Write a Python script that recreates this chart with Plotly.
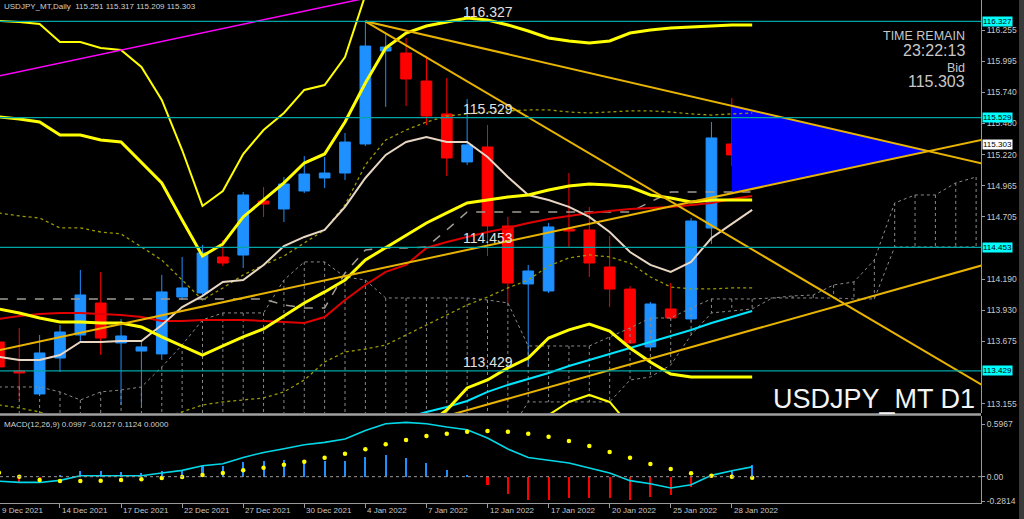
import plotly.graph_objects as go

# ---------------- data ----------------
TRADING_DAYS = ["9 Dec", "10 Dec", "13 Dec", "14 Dec", "15 Dec", "16 Dec", "17 Dec", "20 Dec",
                "21 Dec", "22 Dec", "23 Dec", "24 Dec", "27 Dec", "28 Dec", "29 Dec", "30 Dec",
                "31 Dec", "3 Jan", "4 Jan", "5 Jan", "6 Jan", "7 Jan", "10 Jan", "11 Jan",
                "12 Jan", "13 Jan", "14 Jan", "17 Jan", "18 Jan", "19 Jan", "20 Jan", "21 Jan",
                "24 Jan", "25 Jan", "26 Jan", "27 Jan", "28 Jan", "31 Jan"]

TICK_DAYS = ["9 Dec", "14 Dec", "17 Dec", "22 Dec", "27 Dec", "30 Dec", "4 Jan", "7 Jan",
             "12 Jan", "17 Jan", "20 Jan", "25 Jan", "28 Jan"]
TICK_LABELS = ["9 Dec 2021", "14 Dec 2021", "17 Dec 2021", "22 Dec 2021", "27 Dec 2021",
               "30 Dec 2021", "4 Jan 2022", "7 Jan 2022", "12 Jan 2022", "17 Jan 2022",
               "20 Jan 2022", "25 Jan 2022", "28 Jan 2022"]

OPEN = [113.668, 113.428, 113.237, 113.535, 113.726, 113.991, 113.660, 113.593, 113.569, 114.041,
        114.074, 114.373, 114.389, 114.837, 114.771, 114.920, 115.028, 115.069, 115.310, 116.081,
        116.064, 115.832, 115.559, 115.161, 115.285, 114.630, 114.149, 114.091, 114.605, 114.597,
        114.290, 114.107, 113.627, 113.942, 113.859, 114.613, 115.310, 115.251]
HIGH = [113.718, 113.784, 113.726, 113.809, 114.265, 114.248, 113.859, 113.685, 114.224, 114.373,
        114.472, 114.514, 114.912, 114.953, 115.036, 115.210, 115.202, 115.401, 116.327, 116.230,
        116.189, 116.040, 115.857, 115.683, 115.467, 114.705, 114.307, 114.655, 115.069, 114.787,
        114.547, 114.132, 114.000, 114.157, 114.696, 115.492, 115.691, 115.317]
LOW = [113.419, 113.187, 113.220, 113.419, 113.668, 113.560, 113.146, 113.146, 113.519, 114.016,
       114.058, 114.298, 114.282, 114.705, 114.663, 114.903, 114.945, 115.011, 115.293, 115.617,
       115.625, 115.467, 115.044, 115.136, 114.381, 113.991, 113.461, 114.074, 114.456, 114.207,
       113.958, 113.651, 113.610, 113.850, 113.834, 114.481, 115.127, 115.209]
CLOSE = [113.461, 113.411, 113.577, 113.751, 114.058, 113.701, 113.718, 113.627, 114.083, 114.116,
         114.406, 114.323, 114.887, 114.812, 114.978, 115.061, 115.069, 115.326, 116.122, 116.114,
         115.849, 115.542, 115.194, 115.302, 114.630, 114.157, 114.257, 114.622, 114.588, 114.323,
         114.107, 113.660, 113.983, 113.867, 114.671, 115.360, 115.219, 115.303]

# Bollinger-type bands (thick yellow)
BB_UPPER = [115.534, 115.517, 115.492, 115.385, 115.385, 115.343, 115.327, 115.161, 114.987, 114.680,
            114.381, 114.481, 114.705, 114.846, 114.987, 115.152, 115.227, 115.492, 115.816, 116.106,
            116.230, 116.288, 116.321, 116.355, 116.338, 116.297, 116.247, 116.189, 116.164, 116.147,
            116.164, 116.230, 116.255, 116.272, 116.280, 116.288, 116.297, 116.297]
BB_MIDDLE = [113.942, 113.909, 113.867, 113.834, 113.834, 113.826, 113.826, 113.793, 113.710, 113.635,
             113.560, 113.635, 113.710, 113.776, 113.884, 113.992, 114.083, 114.182, 114.348, 114.448,
             114.555, 114.655, 114.738, 114.821, 114.846, 114.870, 114.887, 114.929, 114.962, 114.978,
             114.970, 114.953, 114.887, 114.862, 114.829, 114.846, 114.846, 114.846]
BB_LOWER = [None, None, None, None, None, None, None, None, None, None,
            None, None, None, None, None, None, None, None, None, None,
            112.856, 112.980, 113.104, 113.287, 113.353, 113.453, 113.535, 113.701, 113.768, 113.817,
            113.759, 113.618, 113.502, 113.403, 113.378, 113.378, 113.378, 113.378]
# second band set (thinner yellow)
BB2_UPPER = [116.330, 116.321, 116.305, 116.156, 116.156, 116.106, 116.089, 115.948, 115.675, 115.260,
             114.796, 114.920, 115.227, 115.426, 115.567, 115.758, 115.799, 116.031, 116.545, None,
             None, None, None, None, None, None, None, None, None, None,
             None, None, None, None, None, None, None, None]
BB2_LOWER = [None, None, None, None, None, None, None, None, None, None,
             None, None, None, None, None, None, None, None, None, None,
             None, None, None, None, None, None, 112.856, 113.063, 113.171, 113.229,
             113.171, 112.980, 112.773, None, None, None, None, None]
# envelopes (olive dotted)
ENV_UPPER = [114.738, 114.713, 114.696, 114.614, 114.614, 114.580, 114.564, 114.456, 114.348, 114.182,
             114.016, 114.116, 114.224, 114.307, 114.381, 114.489, 114.597, 114.804, 115.136, 115.343,
             115.426, 115.492, 115.542, 115.559, 115.575, 115.584, 115.592, 115.592, 115.575, 115.567,
             115.575, 115.584, 115.584, 115.575, 115.559, 115.550, 115.559, 115.567]
ENV_LOWER = [113.146, 113.121, 113.088, 113.022, 112.980, 112.980, 112.980, 113.005, 113.038, 113.088,
             113.146, 113.171, 113.187, 113.204, 113.254, 113.353, 113.502, 113.585, 113.610, 113.643,
             113.726, 113.809, 113.892, 113.975, 114.041, 114.116, 114.182, 114.298, 114.365, 114.390,
             114.373, 114.323, 114.207, 114.124, 114.108, 114.108, 114.116, 114.116]
# moving averages
MA_RED = [113.859, 113.884, 113.900, 113.909, 113.909, 113.900, 113.892, 113.875, 113.842, 113.842,
          113.851, 113.851, 113.851, 113.842, 113.834, 113.826, 113.875, 114.016, 114.141, 114.249,
          114.307, 114.448, 114.497, 114.539, 114.580, 114.614, 114.655, 114.688, 114.713, 114.738,
          114.754, 114.771, 114.779, 114.788, 114.804, 114.821, 114.854, 114.879]
MA_BEIGE = [113.544, 113.519, 113.519, 113.560, 113.668, 113.668, 113.676, 113.676, 113.809, 113.958,
            114.050, 114.166, 114.182, 114.307, 114.464, 114.539, 114.597, 114.788, 115.028, 115.219,
            115.327, 115.368, 115.327, 115.327, 115.202, 115.036, 114.887, 114.846, 114.788, 114.705,
            114.580, 114.414, 114.307, 114.249, 114.332, 114.530, 114.647, 114.763]
MA_CYAN = [None, None, None, None, None, None, None, None, None, None,
           None, None, None, None, None, None, None, None, None, 112.980,
           113.038, 113.088, 113.129, 113.179, 113.254, 113.312, 113.361, 113.411, 113.469, 113.519,
           113.569, 113.618, 113.668, 113.718, 113.768, 113.826, 113.875, 113.925]
KIJUN = [114.025, 114.025, 114.025, 114.025, 114.025, 114.025, 114.025, 114.025, 114.025, 114.025,
         114.025, 114.025, 114.025, 114.025, 113.975, 113.950, 113.950, 114.240, 114.431, 114.448,
         114.448, 114.456, 114.597, 114.746, 114.746, 114.746, 114.746, 114.746, 114.746, 114.746,
         114.746, 114.746, 114.829, 114.912, 114.912, 114.912, 114.912, 114.912]
# Ichimoku cloud spans (run 11 bars past the last candle)
SPAN_1 = [113.295, 113.295, 113.295, 113.254, 113.187, 113.254, 113.270, 113.295, 113.461, 113.643,
          113.851, 113.909, 113.909, 113.909, 114.182, 114.332, 114.332, 114.207, 114.182, 114.033,
          114.033, 114.033, 114.033, 114.033, 114.016, 113.992, 113.635, 113.635, 113.635, 113.635,
          113.710, 113.784, 113.867, 113.867, 113.950, 114.025, 114.025, 114.025, 114.033, 114.050,
          114.058, 114.141, 114.166, 114.348, 114.821, 114.887, 114.887, 114.987, 115.036]
SPAN_2 = [112.900, 112.900, 112.900, 112.900, 112.900, 112.900, 112.900, 112.900, 112.900, 112.900,
          112.900, 112.900, 112.900, 112.900, 112.900, 112.900, 112.900, 112.900, 112.900, 112.900,
          112.900, 112.900, 112.900, 112.900, 112.900, 112.900, 113.171, 113.171, 113.171, 113.171,
          113.171, 113.353, 113.378, 113.477, 113.726, 113.909, 113.925, 113.942, 114.033, 114.033,
          114.033, 114.033, 114.025, 114.025, 114.456, 114.456, 114.456, 114.456, 114.456]

# horizontal levels and trend lines (bar index, price)
LEVELS = [116.327, 115.529, 114.453, 113.429]
TL_SLOW = [(18, 116.327), (48, 115.160)]
TL_FAST = [(18, 116.327), (48, 113.340)]
TL_MID = [(0, 113.600), (48, 115.335)]
TL_LOW = [(22, 113.055), (48, 114.290)]
TL_MAGENTA = [(0, 115.874), (20, 116.590)]
TRIANGLE_START = "28 Jan"

BID = 115.303
PRICE_TICKS = [116.255, 115.995, 115.740, 115.480, 115.220, 114.965, 114.705,
               114.190, 113.930, 113.675, 113.155]

MACD_HIST = [0.0, -0.068, -0.038, 0.019, 0.065, 0.065, 0.053, 0.038, 0.068, 0.076,
             0.122, 0.125, 0.170, 0.178, 0.190, 0.190, 0.182, 0.182, 0.227, 0.246,
             0.216, 0.159, 0.076, 0.019, -0.094, -0.197, -0.265, -0.265, -0.246, -0.246,
             -0.239, -0.265, -0.235, -0.208, -0.121, -0.010, 0.076, 0.133]
MACD_LINE = [-0.051, -0.065, -0.065, -0.042, 0.011, 0.011, 0.011, 0.011, 0.042, 0.072,
             0.125, 0.148, 0.219, 0.276, 0.318, 0.364, 0.390, 0.428, 0.526, 0.602,
             0.617, 0.602, 0.565, 0.534, 0.440, 0.315, 0.219, 0.185, 0.156, 0.099,
             0.042, -0.045, -0.080, -0.128, -0.091, 0.015, 0.068, 0.112]
MACD_SIGNAL = [0.045, 0.0, -0.038, -0.048, -0.048, -0.045, -0.038, -0.030, -0.015, -0.003,
               0.019, 0.042, 0.073, 0.102, 0.136, 0.170, 0.216, 0.261, 0.311, 0.368,
               0.417, 0.463, 0.489, 0.511, 0.519, 0.511, 0.489, 0.455, 0.406, 0.349,
               0.281, 0.216, 0.144, 0.088, 0.038, 0.011, 0.0, -0.013]
MACD_TICKS = [0.5967, 0.0, -0.2814]
MACD_TICKTEXT = ["0.5967", "0.00", "-0.2814"]

# ---------------- figure ----------------
FONT = "Liberation Sans, Arial, sans-serif"
X = list(range(len(TRADING_DAYS)))
XC = list(range(len(SPAN_1)))
X_RANGE = [0.054, 48.24]
Y_RANGE = [113.0792, 116.5038]
M_RANGE = [-0.2989, 0.6898]
MAIN_DOMAIN = [0.17893, 1.0]
MACD_DOMAIN = [0.0, 0.17296]
GOLD = "#E8B400"


def line_at(seg, x):
    (x1, y1), (x2, y2) = seg
    return y1 + (y2 - y1) * (x - x1) / (x2 - x1)


def intersect(a, b):
    (x1, y1), (x2, y2) = a
    (x3, y3), (x4, y4) = b
    m1 = (y2 - y1) / (x2 - x1)
    m2 = (y4 - y3) / (x4 - x3)
    xi = (y3 - y1 + m1 * x1 - m2 * x3) / (m1 - m2)
    return xi, line_at(a, xi)


fig = go.Figure()

# blue triangle (drawn behind the chart)
ti = TRADING_DAYS.index(TRIANGLE_START)
cx, cy = intersect(TL_SLOW, TL_MID)
fig.add_trace(go.Scatter(x=[ti, ti, cx, ti], y=[line_at(TL_SLOW, ti), line_at(TL_MID, ti), cy, line_at(TL_SLOW, ti)],
                         fill="toself", fillcolor="#0000FF", mode="lines", line=dict(width=0),
                         hoverinfo="skip"))

# Ichimoku cloud hatch
hx, hy = [], []
for i in XC:
    hx += [i, i, None]
    hy += [SPAN_1[i], SPAN_2[i], None]
fig.add_trace(go.Scatter(x=hx, y=hy, mode="lines", line=dict(color="#8a8a8a", width=1, dash="dot"),
                         hoverinfo="skip"))
for span in (SPAN_1, SPAN_2):
    fig.add_trace(go.Scatter(x=XC, y=span, mode="lines", line=dict(color="#8a8a8a", width=1, dash="dot"),
                             hoverinfo="skip"))

# candles
fig.add_trace(go.Candlestick(x=X, open=OPEN, high=HIGH, low=LOW, close=CLOSE, whiskerwidth=0,
                             increasing=dict(line=dict(color="#1E90FF", width=1), fillcolor="#1E90FF"),
                             decreasing=dict(line=dict(color="#FF0000", width=1), fillcolor="#FF0000"),
                             hoverinfo="skip"))

# indicators
for arr in (ENV_UPPER, ENV_LOWER):
    fig.add_trace(go.Scatter(x=X, y=arr, mode="lines", line=dict(color="#9a9a00", width=1.3, dash="dot"),
                             hoverinfo="skip"))
fig.add_trace(go.Scatter(x=X, y=KIJUN, mode="lines", line=dict(color="#a09a92", width=1.5, dash="dash"),
                         hoverinfo="skip"))
fig.add_trace(go.Scatter(x=X, y=MA_CYAN, mode="lines", line=dict(color="#00E5FF", width=2), hoverinfo="skip"))
fig.add_trace(go.Scatter(x=X, y=MA_RED, mode="lines", line=dict(color="#E00000", width=2), hoverinfo="skip"))
fig.add_trace(go.Scatter(x=X, y=MA_BEIGE, mode="lines", line=dict(color="#E8D6C4", width=2), hoverinfo="skip"))
for arr in (BB2_UPPER, BB2_LOWER):
    fig.add_trace(go.Scatter(x=X, y=arr, mode="lines", line=dict(color="#FFFF00", width=2), hoverinfo="skip"))
for arr in (BB_UPPER, BB_MIDDLE, BB_LOWER):
    fig.add_trace(go.Scatter(x=X, y=arr, mode="lines", line=dict(color="#FFFF00", width=3), hoverinfo="skip"))

# trend lines
for seg, x0, x1 in ((TL_SLOW, TL_SLOW[0][0], 50), (TL_FAST, TL_FAST[0][0], 50), (TL_MID, -1, 50),
                    (TL_LOW, 20, 50)):
    fig.add_trace(go.Scatter(x=[x0, x1], y=[line_at(seg, x0), line_at(seg, x1)], mode="lines",
                             line=dict(color=GOLD, width=2), hoverinfo="skip"))
fig.add_trace(go.Scatter(x=[-1, 22], y=[line_at(TL_MAGENTA, -1), line_at(TL_MAGENTA, 22)], mode="lines",
                         line=dict(color="#FF00FF", width=1.5), hoverinfo="skip"))

# MACD panel
fig.add_trace(go.Bar(x=X, y=MACD_HIST, width=0.1, xaxis="x2", yaxis="y2",
                     marker=dict(color=["#1E90FF" if v >= 0 else "#FF0000" for v in MACD_HIST], line=dict(width=0)),
                     hoverinfo="skip"))
fig.add_trace(go.Scatter(x=X, y=MACD_LINE, xaxis="x2", yaxis="y2", mode="lines",
                         line=dict(color="#00D8E8", width=1.6), hoverinfo="skip"))
fig.add_trace(go.Scatter(x=X, y=MACD_SIGNAL, xaxis="x2", yaxis="y2", mode="markers",
                         marker=dict(color="#FFFF00", size=4.5), hoverinfo="skip"))

shapes = []
for lv in LEVELS:
    shapes.append(dict(type="line", xref="paper", x0=0, x1=1, yref="y", y0=lv, y1=lv,
                       line=dict(color="#00A5A5", width=1.2)))
shapes.append(dict(type="line", xref="paper", x0=0, x1=1, yref="y2", y0=0, y1=0,
                   line=dict(color="#9a9a9a", width=1, dash="dot")))
shapes.append(dict(type="line", xref="paper", x0=0, x1=1, yref="paper", y0=1 - 414.5 / 503, y1=1 - 414.5 / 503,
                   line=dict(color="#a0a0a0", width=2.5)))
shapes.append(dict(type="rect", xref="paper", x0=1019 / 981, x1=1024 / 981, yref="paper", y0=-0.04, y1=1,
                   fillcolor="#3a3a3a", line=dict(width=0)))

ann = []
ann.append(dict(text="USDJPY_MT,Daily  115.251 115.317 115.209 115.303", xref="paper", yref="paper",
                x=0, y=1, xanchor="left", yanchor="top", xshift=2, yshift=0, showarrow=False,
                font=dict(size=8, color="#d0d0d0", family=FONT)))
ann.append(dict(text="MACD(12,26,9) 0.0997 -0.0127 0.1124 0.0000", xref="paper", yref="paper",
                x=0, y=(503 - 424) / 503, xanchor="left", yanchor="middle", xshift=2, showarrow=False,
                font=dict(size=8, color="#d0d0d0", family=FONT)))
for lv in LEVELS:
    ann.append(dict(text=f"{lv:.3f}", xref="x", yref="y", x=24, y=lv, xanchor="center", yanchor="bottom",
                    yshift=-1, showarrow=False, font=dict(size=14, color="#e0e0e0", family=FONT)))
    ann.append(dict(text=f"{lv:.3f}", xref="paper", yref="y", x=1, y=lv, xanchor="left", yanchor="middle",
                    xshift=1, showarrow=False, bgcolor="#00FFFF", borderpad=0,
                    font=dict(size=8, color="#000000", family=FONT)))
ann.append(dict(text=f"{BID:.3f}", xref="paper", yref="y", x=1, y=BID, xanchor="left", yanchor="middle",
                xshift=1, showarrow=False, bgcolor="#FFFFFF", borderpad=0,
                font=dict(size=8, color="#000000", family=FONT)))
for txt, py, sz in (("TIME REMAIN", 36, 12.5), ("23:22:13", 50, 16), ("Bid", 68, 12.5), (f"{BID:.3f}", 82, 16)):
    ann.append(dict(text=txt, xref="paper", yref="paper", x=967 / 981, y=1 - py / 503, xanchor="right",
                    yanchor="middle", showarrow=False, font=dict(size=sz, color="#c8c8c8", family=FONT)))
ann.append(dict(text="USDJPY_MT D1", xref="paper", yref="paper", x=977 / 981, y=(503 - 399) / 503,
                xanchor="right", yanchor="middle", showarrow=False,
                font=dict(size=27, color="#f4f4f4", family=FONT)))
tick_idx = [TRADING_DAYS.index(d) for d in TICK_DAYS]
for i, lab in zip(tick_idx, TICK_LABELS):
    px = max(0.0, (i - X_RANGE[0]) / (X_RANGE[1] - X_RANGE[0]))
    ann.append(dict(text=lab, xref="paper", yref="paper", x=px, y=0, xanchor="left", yanchor="top",
                    xshift=0, yshift=-1, showarrow=False, font=dict(size=8, color="#c8c8c8", family=FONT)))

axis_common = dict(showgrid=False, zeroline=False)
fig.update_layout(
    width=1024, height=519, margin=dict(l=0, r=43, t=0, b=16),
    paper_bgcolor="#000000", plot_bgcolor="#000000", showlegend=False,
    boxgap=0.25, bargap=0, font=dict(family=FONT),
    xaxis=dict(domain=[0, 1], range=X_RANGE, anchor="y", showticklabels=False, ticks="",
               rangeslider=dict(visible=False), **axis_common),
    xaxis2=dict(domain=[0, 1], range=X_RANGE, anchor="y2", matches="x", showticklabels=False,
                tickvals=tick_idx, ticks="outside", ticklen=4, tickcolor="#9a9a9a",
                showline=True, linecolor="#9a9a9a", linewidth=1, **axis_common),
    yaxis=dict(domain=MAIN_DOMAIN, range=Y_RANGE, side="right", anchor="x",
               tickvals=PRICE_TICKS, ticktext=[f"{v:.3f}" for v in PRICE_TICKS],
               ticks="outside", ticklen=3, tickcolor="#9a9a9a",
               tickfont=dict(size=8.5, color="#c8c8c8", family=FONT),
               showline=True, linecolor="#9a9a9a", linewidth=1, automargin=False, **axis_common),
    yaxis2=dict(domain=MACD_DOMAIN, range=M_RANGE, side="right", anchor="x2",
                tickvals=MACD_TICKS, ticktext=MACD_TICKTEXT,
                ticks="outside", ticklen=3, tickcolor="#9a9a9a",
                tickfont=dict(size=8.5, color="#c8c8c8", family=FONT),
                showline=True, linecolor="#9a9a9a", linewidth=1, automargin=False, **axis_common),
    shapes=shapes, annotations=ann,
)

fig.write_html("out.html", include_plotlyjs=True, config={"displayModeBar": False},
               post_script="document.body.style.margin='0';document.body.style.padding='0';"
                           "document.body.style.overflow='hidden';")
